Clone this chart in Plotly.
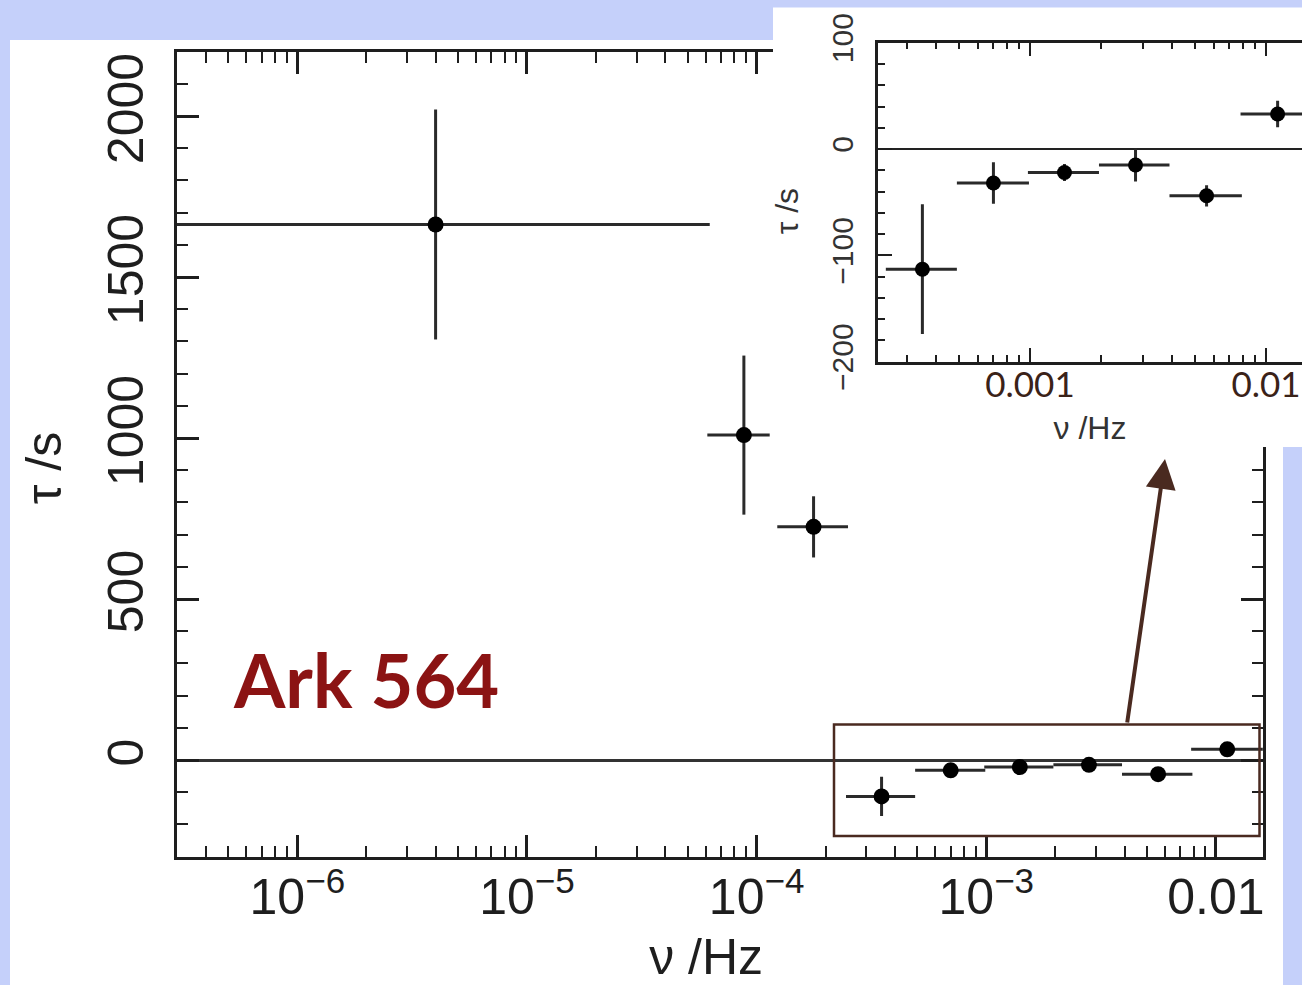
import plotly.graph_objects as go

W, H = 1302, 985

# ---- data ----
freq = [4.0e-6, 8.8e-5, 1.77e-4, 3.5e-4, 7.0e-4, 1.4e-3, 2.8e-3, 5.6e-3, 1.12e-2]   # Hz (bin centre)
f_lo = [2.5e-7, 6.1e-5, 1.23e-4, 2.45e-4, 4.9e-4, 9.8e-4, 1.96e-3, 3.9e-3, 7.8e-3]  # bin low edge
f_hi = [6.25e-5, 1.14e-4, 2.5e-4, 4.9e-4, 9.9e-4, 1.96e-3, 3.9e-3, 7.9e-3, 1.6e-2]  # bin high edge
lag = [1663, 1009, 724, -113, -32, -22, -15, -44, 33]          # tau (s)
lag_err = [357, 247, 95, 61, 19.5, 8, 15.5, 10, 12.5]          # tau error (s)

main_xtickvals = [1e-6, 1e-5, 1e-4, 1e-3, 1e-2]
main_xticktext = ["10<sup>−6</sup>", "10<sup>−5</sup>", "10<sup>−4</sup>", "10<sup>−3</sup>", "0.01"]
main_ytickvals = [0, 500, 1000, 1500, 2000]
inset_xtickvals = [1e-3, 1e-2]
inset_xticktext = ["0.001", "0.01"]
inset_ytickvals = [-200, -100, 0, 100]
inset_yticktext = ["−200", "−100", "0", "100"]

minor_log = [m * 10.0 ** e for e in range(-8, 0) for m in range(2, 10)]

BLUE = "#c5d0fa"
INK = "#1e1e1e"
BROWN = "#4a2a20"
NB = "&nbsp;"

def px_x(p):
    return p / W

def px_y(p):
    return 1 - p / H

err_plus = [h - f for h, f in zip(f_hi, freq)]
err_minus = [f - l for l, f in zip(f_lo, freq)]

fig = go.Figure()

# main panel
fig.add_trace(go.Scatter(
    x=freq, y=lag, mode="markers",
    marker=dict(color="black", size=16),
    error_x=dict(type="data", array=err_plus, arrayminus=err_minus, width=0, thickness=3, color="#2a2a2a"),
    error_y=dict(type="data", array=lag_err, width=0, thickness=3, color="#2a2a2a"),
    xaxis="x", yaxis="y", showlegend=False, hoverinfo="skip",
))

# cover panel (white box behind the inset)
fig.add_trace(go.Scatter(x=[], y=[], xaxis="x2", yaxis="y2", showlegend=False))

# inset panel
n0 = 3
fig.add_trace(go.Scatter(
    x=freq[n0:], y=lag[n0:], mode="markers",
    marker=dict(color="black", size=15),
    error_x=dict(type="data", array=err_plus[n0:], arrayminus=err_minus[n0:], width=0, thickness=3, color="#2a2a2a"),
    error_y=dict(type="data", array=lag_err[n0:], width=0, thickness=3, color="#2a2a2a"),
    xaxis="x3", yaxis="y3", showlegend=False, hoverinfo="skip",
))

tickfont_main = dict(family="Liberation Sans, Arial, sans-serif", size=50, color=INK)
inset_font = dict(family="Liberation Sans, Arial, sans-serif", size=32, color="#333333")

fig.update_layout(
    width=W, height=H,
    margin=dict(l=0, r=0, t=0, b=0, autoexpand=False),
    paper_bgcolor=BLUE,
    plot_bgcolor="white",
    showlegend=False,
    xaxis=dict(
        type="log", range=[-6.524, -1.795], domain=[px_x(177), px_x(1263)], anchor="y",
        automargin=False,
        showline=True, linewidth=2.8, linecolor=INK, mirror="allticks",
        ticks="inside", ticklen=22, tickwidth=2.5, tickcolor=INK,
        tickmode="array", tickvals=main_xtickvals, ticktext=main_xticktext,
        tickfont=tickfont_main, ticklabelstandoff=-6,
        minor=dict(ticks="inside", ticklen=11, tickwidth=2, tickcolor=INK,
                   tickmode="array", tickvals=minor_log, showgrid=False),
        showgrid=False, zeroline=False,
        title=dict(text="ν /Hz" + NB * 2, font=tickfont_main, standoff=26),
    ),
    yaxis=dict(
        range=[-300, 2200], domain=[px_y(856.6), px_y(51.6)], anchor="x",
        automargin=False,
        showline=True, linewidth=2.8, linecolor=INK, mirror="allticks",
        ticks="inside", ticklen=22, tickwidth=2.5, tickcolor=INK,
        tickmode="array", tickvals=main_ytickvals, tickangle=-90,
        tickfont=tickfont_main, ticklabelstandoff=11,
        minor=dict(ticks="inside", ticklen=11, tickwidth=2, tickcolor=INK, dtick=100, tick0=0, showgrid=False),
        showgrid=False, zeroline=True, zerolinecolor="#333333", zerolinewidth=2.5,
        title=dict(text="τ /s" + NB * 2, font=tickfont_main, standoff=21),
    ),
    xaxis2=dict(domain=[px_x(773), 1.0], anchor="y2", range=[0, 1], automargin=False,
                showline=False, showticklabels=False, ticks="", showgrid=False, zeroline=False, fixedrange=True),
    yaxis2=dict(domain=[px_y(447), px_y(7.5)], anchor="x2", range=[0, 1], automargin=False,
                showline=False, showticklabels=False, ticks="", showgrid=False, zeroline=False, fixedrange=True),
    xaxis3=dict(
        type="log", range=[-3.644, -1.8475], domain=[px_x(878), 1.0], anchor="y3",
        automargin=False,
        showline=True, linewidth=2.5, linecolor=INK, mirror="allticks",
        ticks="inside", ticklen=14, tickwidth=2.2, tickcolor=INK,
        tickmode="array", tickvals=inset_xtickvals, ticktext=inset_xticktext,
        tickfont=dict(family="Lato, sans-serif", size=35, color="#3a2218"), ticklabelstandoff=-9,
        minor=dict(ticks="inside", ticklen=7, tickwidth=2, tickcolor=INK,
                   tickmode="array", tickvals=minor_log, showgrid=False),
        showgrid=False, zeroline=False,
        title=dict(text="ν /Hz", font=inset_font, standoff=14),
    ),
    yaxis3=dict(
        range=[-200, 100], domain=[px_y(361.7), px_y(42.7)], anchor="x3",
        automargin=False,
        showline=True, linewidth=2.5, linecolor=INK, mirror=False,
        ticks="inside", ticklen=14, tickwidth=2.2, tickcolor=INK,
        tickmode="array", tickvals=inset_ytickvals, ticktext=inset_yticktext, tickangle=-90,
        tickfont=dict(family="Liberation Sans, Arial, sans-serif", size=30, color="#333333"), ticklabelstandoff=10,
        minor=dict(ticks="inside", ticklen=7, tickwidth=2, tickcolor=INK, dtick=20, tick0=0, showgrid=False),
        showgrid=False, zeroline=True, zerolinecolor="#222222", zerolinewidth=2,
        title=dict(text="τ /s" + NB * 2, font=inset_font, standoff=19),
    ),
)

# white slide panel behind the main plot
fig.add_shape(type="rect", xref="paper", yref="paper",
              x0=px_x(10), x1=px_x(1283), y0=0, y1=px_y(40),
              fillcolor="white", line=dict(width=0), layer="below")

# brown highlight box around the high-frequency points
fig.add_shape(type="rect", xref="paper", yref="paper",
              x0=px_x(834), x1=px_x(1259.5), y0=px_y(836), y1=px_y(724.5),
              fillcolor="rgba(0,0,0,0)", line=dict(color=BROWN, width=2.5), layer="above")

# arrow from box to inset
fig.add_annotation(x=px_x(1165), y=px_y(459), xref="paper", yref="paper",
                   ax=1127 - 1165, ay=724 - 459, axref="pixel", ayref="pixel",
                   text="", showarrow=True, arrowhead=2, arrowsize=1.5, arrowwidth=4,
                   arrowcolor=BROWN, standoff=0)

# label
fig.add_annotation(x=px_x(366), y=px_y(679), xref="paper", yref="paper",
                   text="<b>Ark 564</b>", showarrow=False, xanchor="center", yanchor="middle",
                   font=dict(family="Lato, sans-serif", size=74, color="#8b1313"))

fig.write_html("out.html")
